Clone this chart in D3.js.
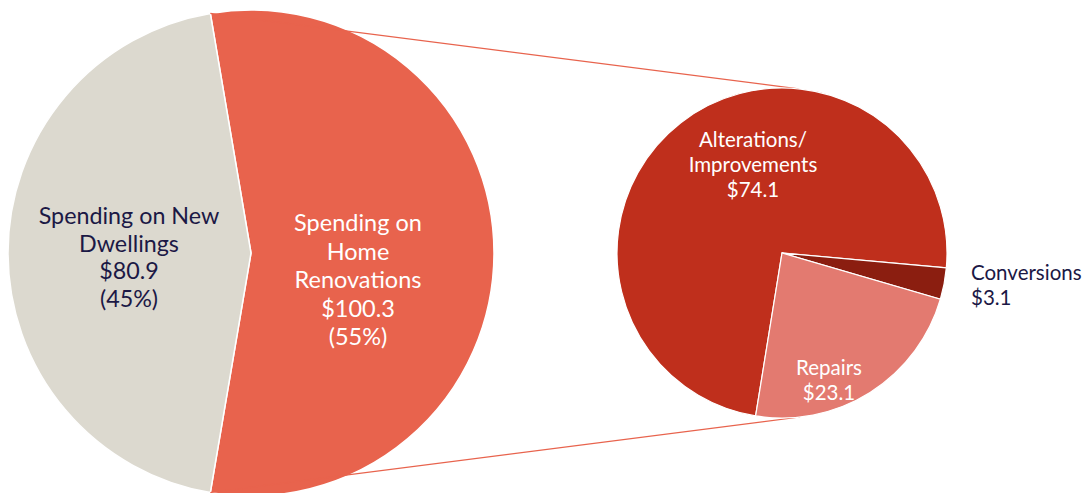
<!DOCTYPE html>
<html>
<head>
<meta charset="utf-8">
<script src="https://cdn.jsdelivr.net/npm/d3@7"></script>
<style>
  html, body { margin: 0; padding: 0; background: #fff; }
  svg { display: block; font-family: Lato, "Open Sans", sans-serif; }
</style>
</head>
<body>
<svg id="chart" width="1088" height="493"></svg>
<script>
// Total housing spending split (billions of dollars)
const mainCategories = ["Spending on Home Renovations", "Spending on New Dwellings"];
const mainValues = [100.3, 80.9];
const mainShares = ["55%", "45%"];

// Breakdown of renovation spending
const renoCategories = ["Alterations/ Improvements", "Conversions", "Repairs"];
const renoValues = [74.1, 3.1, 23.1];

const mainColors = ["#e8634d", "#dcd9cf"];
const renoColors = ["#bf2f1c", "#8b1e10", "#e37a70"];
const darkText = "#1b1845";

const svg = d3.select("#chart");

// ---- Left pie ----
const big = { cx: 251, cy: 253, r: 243 };
const mainTotal = d3.sum(mainValues);
const renoSpan = mainValues[0] / mainTotal * 2 * Math.PI;
// Renovation slice is centred on the right-hand side
const mainStart = Math.PI / 2 - renoSpan / 2;
const mainPie = d3.pie().sort(null).value(d => d)
  .startAngle(mainStart).endAngle(mainStart + 2 * Math.PI);
const mainArcs = mainPie(mainValues);
const bigArc = d3.arc().innerRadius(0).outerRadius(big.r);

const gBig = svg.append("g").attr("transform", `translate(${big.cx},${big.cy})`);
gBig.selectAll("path").data(mainArcs).join("path")
  .attr("d", bigArc)
  .attr("fill", (d, i) => mainColors[i])
  .attr("stroke", "#fff").attr("stroke-width", 1.5);

// ---- Right pie ----
const small = { cx: 782, cy: 253, r: 165 };
const renoStart = 189.2 * Math.PI / 180;
const renoPie = d3.pie().sort(null).value(d => d)
  .startAngle(renoStart).endAngle(renoStart + 2 * Math.PI);
const renoArcs = renoPie(renoValues);
const smallArc = d3.arc().innerRadius(0).outerRadius(small.r);

// Connector lines from the renovation slice edges to the breakdown pie
const edgeTop = mainArcs[0].startAngle;
const edgeBot = mainArcs[0].endAngle;
const pt = (c, r, a) => [c.cx + r * Math.sin(a), c.cy - r * Math.cos(a)];
const tTop = pt(small, small.r, 0.1);
const bTop = pt(big, big.r, edgeTop);
const bBot = pt(big, big.r, edgeBot);
const tBot = pt(small, small.r, Math.PI - 0.11);
svg.append("line")
  .attr("x1", bTop[0]).attr("y1", bTop[1])
  .attr("x2", tTop[0]).attr("y2", tTop[1])
  .attr("stroke", "#e8634d").attr("stroke-width", 1.2);
svg.append("line")
  .attr("x1", bBot[0]).attr("y1", bBot[1])
  .attr("x2", tBot[0]).attr("y2", tBot[1])
  .attr("stroke", "#e8634d").attr("stroke-width", 1.2);

const gSmall = svg.append("g").attr("transform", `translate(${small.cx},${small.cy})`);
gSmall.selectAll("path").data(renoArcs).join("path")
  .attr("d", smallArc)
  .attr("fill", (d, i) => renoColors[i])
  .attr("stroke", "#fff").attr("stroke-width", 1.2);

// ---- Labels ----
function multiline(x, y, lines, size, lh, color, anchor) {
  const t = svg.append("text")
    .attr("x", x).attr("y", y)
    .attr("text-anchor", anchor || "middle")
    .attr("fill", color)
    .style("font-size", size + "px");
  lines.forEach((s, i) => {
    t.append("tspan").attr("x", x).attr("dy", i === 0 ? 0 : lh).text(s);
  });
}

multiline(129, 224, ["Spending on New", "Dwellings", "$" + mainValues[1].toFixed(1), "(" + mainShares[1] + ")"],
  23.3, 27.5, darkText);
multiline(358, 231, ["Spending on", "Home", "Renovations", "$" + mainValues[0].toFixed(1), "(" + mainShares[0] + ")"],
  23.5, 28.5, "#fff");

multiline(753, 147, ["Alterations/", "Improvements", "$" + renoValues[0].toFixed(1)], 20.5, 25, "#fff");
multiline(829, 375, ["Repairs", "$" + renoValues[2].toFixed(1)], 20.5, 25, "#fff");
multiline(971, 280, [renoCategories[1], "$" + renoValues[1].toFixed(1)], 20.5, 25, darkText, "start");
</script>
</body>
</html>
